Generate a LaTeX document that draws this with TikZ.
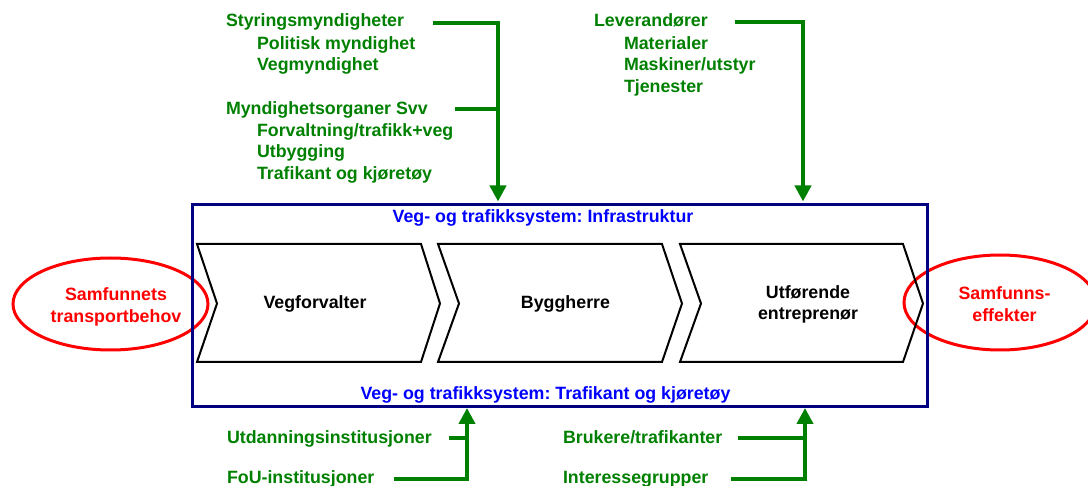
\documentclass[tikz,border=0pt]{standalone}
\usepackage{fontspec}
\setmainfont{Liberation Sans}
\usetikzlibrary{arrows.meta,shapes.geometric}
\definecolor{ggreen}{RGB}{0,128,0}
\definecolor{nblue}{RGB}{0,0,128}
\definecolor{tblue}{RGB}{0,0,255}
\definecolor{rred}{RGB}{255,0,0}
\frenchspacing
\begin{document}
\begin{tikzpicture}[x=1pt,y=-1pt,
  lbl/.style={font=\fontsize{17.8}{21.6}\selectfont\bfseries\frenchspacing, inner sep=0pt, outer sep=0pt},
  gtext/.style={lbl, text=ggreen, anchor=base west},
  btext/.style={lbl, text=tblue, anchor=base},
  ktext/.style={lbl, text=black, align=center},
  rtext/.style={lbl, text=rred, align=center},
  gline/.style={draw=ggreen, line width=4pt},
  garrow/.style={gline, -{Triangle[length=16pt,width=16pt]}},
  chev/.style={draw=black, line width=2pt, line join=miter},
  oval/.style={draw=rred, line width=3pt, ellipse, inner sep=0pt, outer sep=0pt},
]
\useasboundingbox (0,0) rectangle (1088,486);

% red ellipses
\node[oval, minimum width=195pt, minimum height=92pt] (need) at (110.5,304) {};
\node[oval, minimum width=192pt, minimum height=95pt] (eff) at (1000,302.5) {};

% system box
\node[draw=nblue, line width=3pt, minimum width=735pt, minimum height=202pt,
      inner sep=0pt, outer sep=0pt] (box) at (559.5,306) {};

% chevrons
\draw[chev] (197,244) -- (421,244) -- (440,303.5) -- (421,362) -- (197,362) -- (217,303.5) -- cycle;
\draw[chev] (438,244) -- (662,244) -- (682,303.5) -- (662,362) -- (438,362) -- (459,303.5) -- cycle;
\draw[chev] (680,244) -- (903,244) -- (923,303.5) -- (903,362) -- (680,362) -- (701,303.5) -- cycle;

\node[ktext] (vf) at (315,303.5) {Vegforvalter};
\node[ktext] (bh) at (565.5,303.5) {Byggherre};
\node[ktext] (ue) at (808,304.5) {Utførende\\entreprenør};

\node[rtext] (needt) at (116,307) {Samfunnets\\transportbehov};
\node[rtext] (efft) at (1004.5,304) {Samfunns-\\effekter};

\node[btext] (infra) at (543,222.5) {Veg- og trafikksystem: Infrastruktur};
\node[btext] (trafk) at (545.5,400) {Veg- og trafikksystem: Trafikant og kjøretøy};

% top left group
\node[gtext] (styr) at (226,26.5) {Styringsmyndigheter};
\node[gtext] (pol)  at (257,49.5) {Politisk myndighet};
\node[gtext] (vegm) at (257,71) {Vegmyndighet};
\node[gtext] (myn)  at (226,114.5) {Myndighetsorganer Svv};
\node[gtext] (forv) at (257,136.5) {Forvaltning/trafikk+veg};
\node[gtext] (utb)  at (257,158) {Utbygging};
\node[gtext] (trk)  at (257,179.5) {Trafikant og kjøretøy};

% top right group
\node[gtext] (lev)  at (594,27) {Leverandører};
\node[gtext] (mat)  at (624,49.5) {Materialer};
\node[gtext] (mask) at (624,71) {Maskiner/utstyr};
\node[gtext] (tjen) at (624,92.5) {Tjenester};

% bottom groups
\node[gtext] (utd)  at (227,443) {Utdanningsinstitusjoner};
\node[gtext] (fou)  at (227,483) {FoU-institusjoner};
\node[gtext] (bruk) at (563,443) {Brukere/trafikanter};
\node[gtext] (inte) at (563,483) {Interessegrupper};

% connector coordinates
\coordinate (s1) at (433,23.3);
\coordinate (j1) at (498,23.3);
\coordinate (s2) at (455,109);
\coordinate (s3) at (735,21.7);
\coordinate (j3) at (803,21.7);
\coordinate (s4) at (394,478.5);
\coordinate (j4) at (467,478.5);
\coordinate (s5) at (449,438);
\coordinate (s6) at (731,478.5);
\coordinate (j6) at (805,478.5);
\coordinate (s7) at (738,438);

% connectors
\draw[garrow, shorten >=3.5pt] (s1) -- (j1) -- (j1 |- box.north);
\draw[gline] (s2) -- (s2 -| j1);
\draw[garrow, shorten >=3.5pt] (s3) -- (j3) -- (j3 |- box.north);
\draw[garrow, shorten >=1pt] (s4) -- (j4) -- (j4 |- box.south);
\draw[gline] (s5) -- (s5 -| j4);
\draw[garrow, shorten >=1pt] (s6) -- (j6) -- (j6 |- box.south);
\draw[gline] (s7) -- (s7 -| j6);
\end{tikzpicture}
\end{document}
